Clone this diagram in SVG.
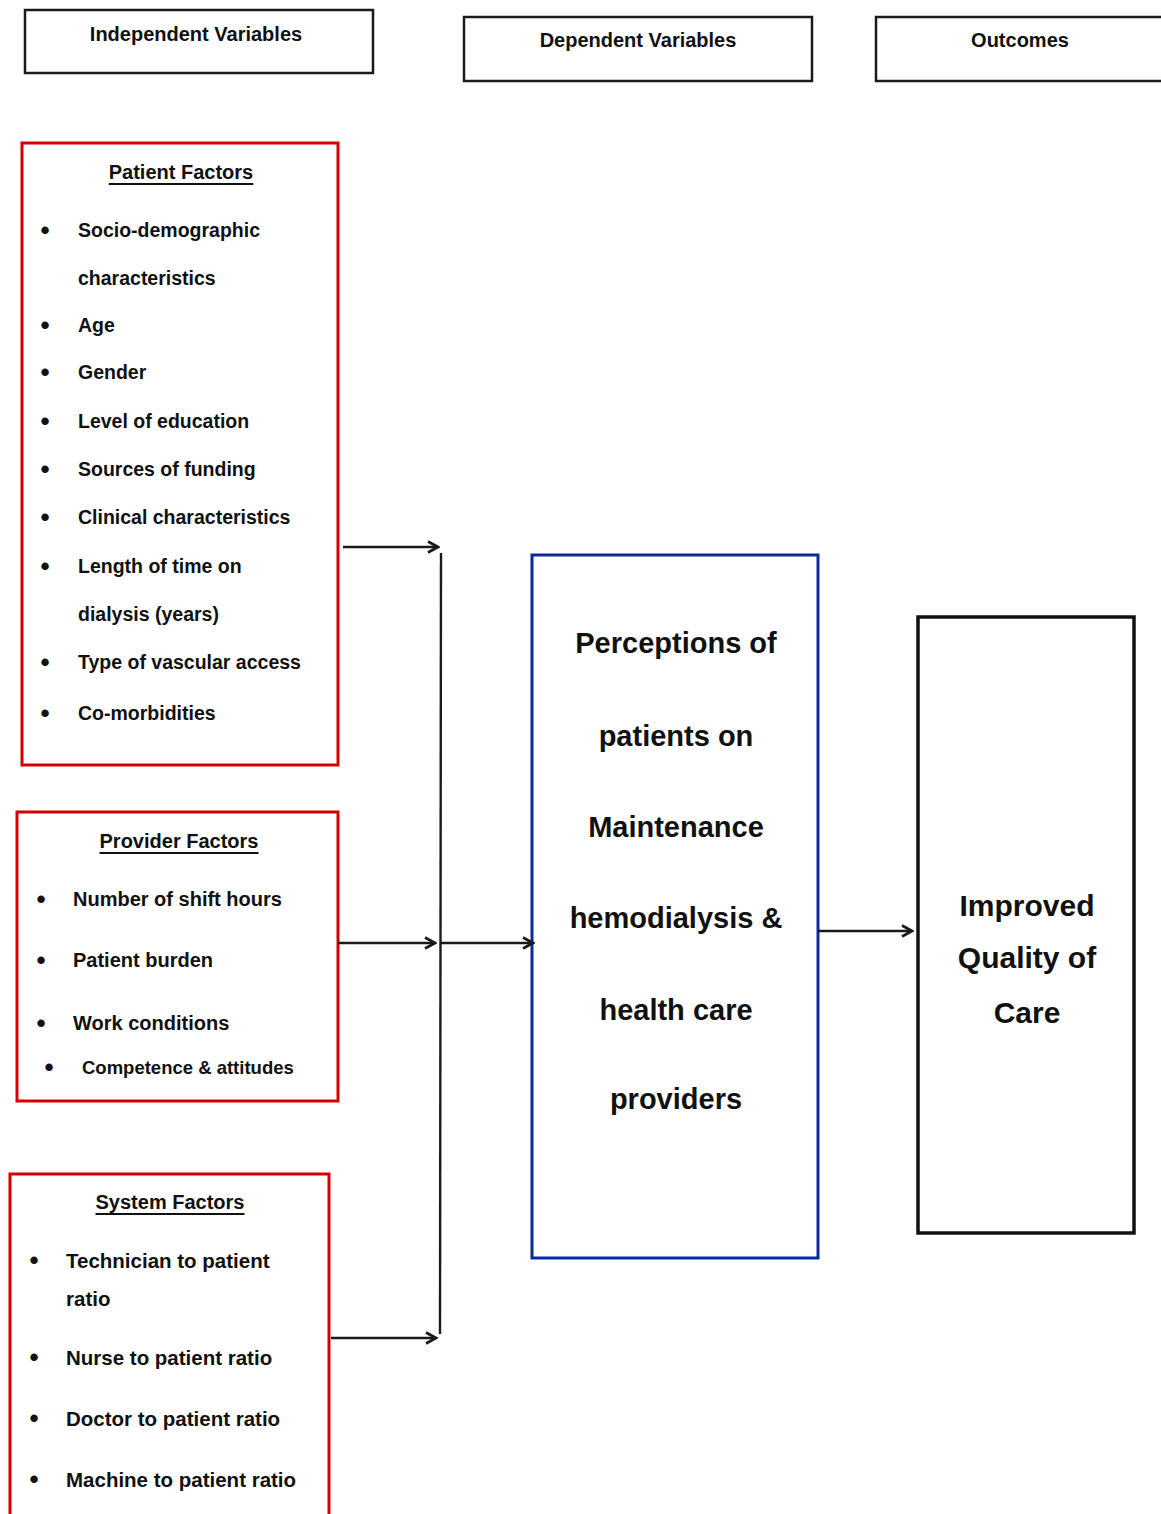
<svg xmlns="http://www.w3.org/2000/svg" width="1161" height="1514" viewBox="0 0 1161 1514">
<defs>
<style>
.hdr{fill:none;stroke:#1a1a1a;stroke-width:2.5}
.red{fill:none;stroke:#d40000;stroke-width:3}
.t{font-family:"Liberation Sans",Arial,sans-serif;font-weight:bold;fill:#111;dominant-baseline:central}
.h{font-size:20px;text-anchor:middle}
.ti{font-size:20px;text-anchor:middle;text-decoration:underline}
.it{font-size:19.5px}
.b{font-size:26px;text-anchor:middle}
.big{font-size:29px;text-anchor:middle}
.con{fill:none;stroke:#1a1a1a;stroke-width:2.4}
</style>
<marker id="ah" viewBox="0 0 14 14" refX="12" refY="7" markerWidth="14" markerHeight="14" markerUnits="userSpaceOnUse" orient="auto">
<path d="M2,1.5 L12,7 L2,12.5" fill="none" stroke="#1a1a1a" stroke-width="2.6"/>
</marker>
</defs>
<rect width="1161" height="1514" fill="#fff"/>

<g id="hdr-independent">
<rect class="hdr" x="25" y="10" width="348" height="63"/>
<text class="t h" x="196" y="34">Independent Variables</text>
</g>
<g id="hdr-dependent">
<rect class="hdr" x="464" y="17" width="348" height="64"/>
<text class="t h" x="638" y="40">Dependent Variables</text>
</g>
<g id="hdr-outcomes">
<path class="hdr" d="M1161,17 H876 V81 H1161"/>
<text class="t h" x="1020" y="40">Outcomes</text>
</g>

<g id="patient-factors">
<rect class="red" x="22" y="143" width="316" height="622"/>
<text class="t ti" x="181" y="172">Patient Factors</text>
<g class="t it">
<text class="b" x="45" y="230">•</text><text x="78" y="230">Socio-demographic</text>
<text x="78" y="278">characteristics</text>
<text class="b" x="45" y="325">•</text><text x="78" y="325">Age</text>
<text class="b" x="45" y="372">•</text><text x="78" y="372">Gender</text>
<text class="b" x="45" y="421">•</text><text x="78" y="421">Level of education</text>
<text class="b" x="45" y="469">•</text><text x="78" y="469">Sources of funding</text>
<text class="b" x="45" y="517">•</text><text x="78" y="517">Clinical characteristics</text>
<text class="b" x="45" y="566">•</text><text x="78" y="566">Length of time on</text>
<text x="78" y="614">dialysis (years)</text>
<text class="b" x="45" y="662">•</text><text x="78" y="662">Type of vascular access</text>
<text class="b" x="45" y="713">•</text><text x="78" y="713">Co-morbidities</text>
</g>
</g>

<g id="provider-factors">
<rect class="red" x="17" y="812" width="321" height="289"/>
<text class="t ti" x="179" y="841">Provider Factors</text>
<g class="t it" style="font-size:20px">
<text class="b" x="41" y="899">•</text><text x="73" y="899">Number of shift hours</text>
<text class="b" x="41" y="960">•</text><text x="73" y="960">Patient burden</text>
<text class="b" x="41" y="1023">•</text><text x="73" y="1023">Work conditions</text>
<text class="b" x="49" y="1067">•</text><text x="82" y="1067" style="font-size:18.5px">Competence &amp; attitudes</text>
</g>
</g>

<g id="system-factors">
<rect class="red" x="10" y="1174" width="319" height="345"/>
<text class="t ti" x="170" y="1202">System Factors</text>
<g class="t it" style="font-size:20.5px">
<text class="b" x="34" y="1260">•</text><text x="66" y="1260">Technician to patient</text>
<text x="66" y="1298">ratio</text>
<text class="b" x="34" y="1357">•</text><text x="66" y="1357">Nurse to patient ratio</text>
<text class="b" x="34" y="1418">•</text><text x="66" y="1418">Doctor to patient ratio</text>
<text class="b" x="34" y="1479">•</text><text x="66" y="1479">Machine to patient ratio</text>
</g>
</g>

<g id="perceptions">
<rect x="532" y="555" width="286" height="703" fill="none" stroke="#0a2a9e" stroke-width="3"/>
<g class="t big">
<text x="676" y="643">Perceptions of</text>
<text x="676" y="736">patients on</text>
<text x="676" y="827">Maintenance</text>
<text x="676" y="918">hemodialysis &amp;</text>
<text x="676" y="1010">health care</text>
<text x="676" y="1099">providers</text>
</g>
</g>

<g id="quality">
<rect x="918" y="617" width="216" height="616" fill="none" stroke="#111" stroke-width="3.5"/>
<g class="t big" style="font-size:30px">
<text x="1027" y="905">Improved</text>
<text x="1027" y="957">Quality of</text>
<text x="1027" y="1012">Care</text>
</g>
</g>

<g id="connectors">
<line class="con" x1="441" y1="553" x2="440" y2="1334"/>
<line class="con" x1="343" y1="547" x2="438" y2="547" marker-end="url(#ah)"/>
<line class="con" x1="338" y1="943" x2="435" y2="943" marker-end="url(#ah)"/>
<line class="con" x1="331" y1="1338" x2="436" y2="1338" marker-end="url(#ah)"/>
<line class="con" x1="441" y1="943" x2="533" y2="943" marker-end="url(#ah)"/>
<line class="con" x1="818" y1="931" x2="912" y2="931" marker-end="url(#ah)"/>
</g>
</svg>
